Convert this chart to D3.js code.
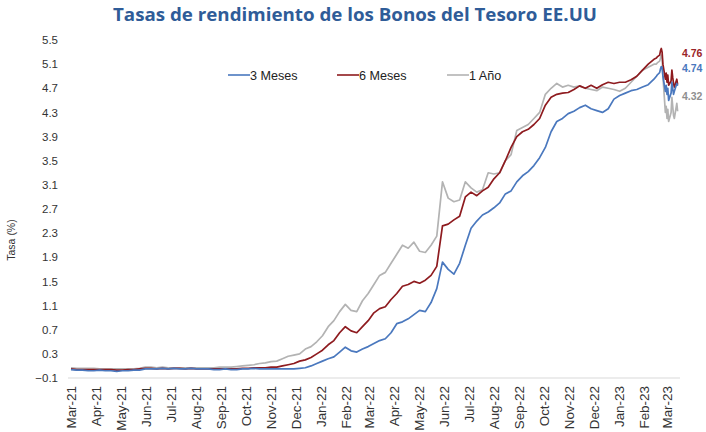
<!DOCTYPE html>
<html>
<head>
<meta charset="utf-8">
<script src="https://cdn.jsdelivr.net/npm/d3@7"></script>
<style>
  html, body { margin: 0; padding: 0; background: #fff; }
  svg { display: block; }
</style>
</head>
<body>
<svg id="chart" width="706" height="432"></svg>
<script>
// ---------------- DATA ----------------
const chartTitle = "Tasas de rendimiento de los Bonos del Tesoro EE.UU";
const seriesNames = ["3 Meses", "6 Meses", "1 Año"];
const tickLabels = ["Mar-21","Apr-21","May-21","Jun-21","Jul-21","Aug-21","Sep-21","Oct-21","Nov-21","Dec-21",
  "Jan-22","Feb-22","Mar-22","Apr-22","May-22","Jun-22","Jul-22","Aug-22","Sep-22","Oct-22","Nov-22","Dec-22",
  "Jan-23","Feb-23","Mar-23"];
const yTicks = [-0.1, 0.3, 0.7, 1.1, 1.5, 1.9, 2.3, 2.7, 3.1, 3.5, 3.9, 4.3, 4.7, 5.1, 5.5];

// weekly observations starting 2021-03-15 (one value per week)
const weeklyStart = "2021-03-15";
const threeMonthWeekly = [
  0.04,0.03,0.03,0.02,0.02,0.03,0.02,0.02,0.01,0.02,0.02,0.03,0.03,
  0.05,0.05,0.05,0.06,0.05,0.06,0.05,0.05,0.06,0.05,0.05,0.05,0.04,0.04,0.05,0.04,0.04,
  0.05,0.05,0.06,0.05,0.05,0.05,0.05,0.05,0.05,0.05,
  0.06,0.07,0.10,0.14,0.18,0.22,0.25,0.33,0.41,0.35,
  0.33,0.38,0.42,0.47,0.52,0.55,0.65,0.80,0.83,0.88,
  0.95,1.02,1.00,1.15,1.38,1.82,
  1.70,1.62,1.80,2.10,2.38,2.50,2.60,2.65,2.72,2.80,
  2.95,3.00,3.15,3.25,3.32,3.42,3.55,3.72,3.98,4.15,
  4.20,4.28,4.32,4.38,4.42,4.36,4.33,4.30,4.36,4.52,
  4.58,4.62,4.66,4.68,4.72,4.76,4.85
];
const sixMonthWeekly = [
  0.05,0.04,0.04,0.04,0.04,0.04,0.04,0.04,0.03,0.03,0.04,0.04,0.05,
  0.06,0.06,0.05,0.06,0.05,0.06,0.06,0.05,0.06,0.05,0.05,0.05,0.05,0.05,0.05,0.05,0.05,
  0.06,0.06,0.07,0.07,0.07,0.08,0.08,0.10,0.12,0.14,
  0.18,0.20,0.24,0.30,0.36,0.45,0.52,0.65,0.75,0.68,
  0.65,0.75,0.85,0.98,1.05,1.08,1.20,1.30,1.42,1.45,
  1.50,1.47,1.52,1.60,1.75,2.42,
  2.45,2.52,2.58,2.90,2.98,2.92,3.00,3.06,3.20,3.30,
  3.50,3.72,3.90,3.98,4.02,4.10,4.20,4.42,4.55,4.60,
  4.62,4.63,4.68,4.74,4.70,4.75,4.70,4.76,4.80,4.78,
  4.80,4.80,4.84,4.90,5.00,5.10,5.18
];
const oneYearWeekly = [
  0.07,0.06,0.06,0.06,0.06,0.05,0.05,0.05,0.05,0.05,0.05,0.05,0.06,
  0.08,0.08,0.07,0.08,0.07,0.07,0.07,0.07,0.07,0.07,0.07,0.07,0.07,0.08,0.08,0.08,0.09,
  0.10,0.11,0.12,0.14,0.15,0.17,0.18,0.22,0.26,0.28,
  0.30,0.38,0.42,0.50,0.60,0.75,0.85,1.00,1.12,1.02,
  1.00,1.18,1.30,1.45,1.60,1.65,1.80,1.95,2.10,2.05,
  2.15,2.00,1.98,2.10,2.25,3.15,
  2.88,2.82,2.85,3.15,3.05,2.98,3.02,3.30,3.28,3.30,
  3.50,3.60,4.00,4.05,4.10,4.20,4.30,4.60,4.70,4.78,
  4.72,4.75,4.72,4.74,4.70,4.68,4.66,4.72,4.70,4.68,
  4.65,4.70,4.80,4.90,5.00,5.05,5.10
];

// daily observations, March 2023
const marchDates = ["2023-03-02","2023-03-03","2023-03-06","2023-03-07","2023-03-08","2023-03-09","2023-03-10",
  "2023-03-13","2023-03-14","2023-03-15","2023-03-16","2023-03-17","2023-03-20","2023-03-21","2023-03-22",
  "2023-03-23","2023-03-24","2023-03-27","2023-03-28"];
const threeMonthMarch = [4.90,4.92,4.96,5.02,5.06,5.04,4.90,4.65,4.75,4.60,4.70,4.50,4.62,4.80,4.70,4.60,4.65,4.78,4.74];
const sixMonthMarch   = [5.20,5.22,5.25,5.32,5.36,5.30,5.10,4.85,4.95,4.80,4.92,4.75,4.82,5.00,4.88,4.78,4.72,4.85,4.76];
const oneYearMarch    = [5.10,5.12,5.15,5.20,5.25,5.22,4.90,4.30,4.40,4.20,4.35,4.15,4.30,4.55,4.40,4.25,4.20,4.45,4.32];

const seriesColors = ["#4A78BE", "#8E1B1F", "#B3B3B3"];
const labelColors  = ["#4A78BE", "#9A2427", "#8F8F8F"];

// ---------------- BUILD ----------------
const parseISO = d3.timeParse("%Y-%m-%d");
const parseTick = d3.timeParse("%b-%y");
const start = parseISO(weeklyStart);

function buildSeries(weekly, march) {
  const pts = weekly.map((v, i) => ({ date: d3.timeDay.offset(start, 7 * i), value: v }));
  march.forEach((v, i) => pts.push({ date: parseISO(marchDates[i]), value: v }));
  return pts;
}
const series = [
  buildSeries(threeMonthWeekly, threeMonthMarch),
  buildSeries(sixMonthWeekly, sixMonthMarch),
  buildSeries(oneYearWeekly, oneYearMarch)
];

const tickDates = tickLabels.map(t => d3.timeDay.offset(parseTick(t), 14));

const svg = d3.select("#chart");

const x = d3.scaleTime()
  .domain([tickDates[0], tickDates[tickDates.length - 1]])
  .range([71, 667]);
const y = d3.scaleLinear().domain([-0.1, 5.5]).range([378, 40]);

// title
svg.append("text")
  .attr("x", 355).attr("y", 21)
  .attr("text-anchor", "middle")
  .attr("font-family", "'Open Sans', 'Noto Sans', sans-serif")
  .attr("font-weight", "bold")
  .attr("font-size", 18)
  .attr("fill", "#2F5C98")
  .attr("textLength", 484)
  .attr("lengthAdjust", "spacingAndGlyphs")
  .text(chartTitle);

// y axis
const yAxis = d3.axisLeft(y).tickValues(yTicks).tickFormat(d3.format(".1f")).tickSize(0).tickPadding(0);
const gy = svg.append("g").attr("transform", "translate(58,0)").call(yAxis);
gy.select(".domain").remove();
gy.selectAll("text")
  .attr("font-family", "'Liberation Sans', Arial, sans-serif")
  .attr("font-size", 11.5)
  .attr("fill", "#333");

// y axis title
svg.append("text")
  .attr("transform", "translate(15,240) rotate(-90)")
  .attr("text-anchor", "middle")
  .attr("font-family", "'Liberation Sans', Arial, sans-serif")
  .attr("font-size", 10.5)
  .attr("fill", "#333")
  .text("Tasa (%)");

// x axis
const xAxis = d3.axisBottom(x).tickValues(tickDates)
  .tickFormat((d, i) => tickLabels[i]).tickSize(0).tickPadding(0);
const gx = svg.append("g").attr("transform", `translate(0,${y(-0.1)})`).call(xAxis);
gx.select(".domain").remove();
gx.selectAll("text")
  .attr("font-family", "'Liberation Sans', Arial, sans-serif")
  .attr("font-size", 12)
  .attr("fill", "#333")
  .attr("text-anchor", "end")
  .attr("dy", null)
  .attr("y", 0)
  .attr("transform", "translate(4.5,8) rotate(-90) scale(1.12,1)");

// baseline
svg.append("line")
  .attr("x1", 68).attr("x2", 680)
  .attr("y1", y(-0.1)).attr("y2", y(-0.1))
  .attr("stroke", "#D9D9D9").attr("stroke-width", 1.2);

// lines (draw gray first, then red, then blue)
const line = d3.line().x(d => x(d.date)).y(d => y(d.value));
[2, 1, 0].forEach(k => {
  svg.append("path")
    .datum(series[k])
    .attr("fill", "none")
    .attr("stroke", seriesColors[k])
    .attr("stroke-width", 1.7)
    .attr("stroke-linejoin", "round")
    .attr("d", line);
});

// legend
const legendX = [228, 337, 447];
seriesNames.forEach((name, k) => {
  svg.append("line")
    .attr("x1", legendX[k]).attr("x2", legendX[k] + 22)
    .attr("y1", 75).attr("y2", 75)
    .attr("stroke", seriesColors[k]).attr("stroke-width", 1.6);
  svg.append("text")
    .attr("x", legendX[k] + 22).attr("y", 79.5)
    .attr("font-family", "'Liberation Sans', Arial, sans-serif")
    .attr("font-size", 12.6)
    .attr("fill", "#222")
    .text(name);
});

// end labels
const endLabelY = [72, 57, 100];
series.forEach((s, k) => {
  svg.append("text")
    .attr("transform", `translate(682,${endLabelY[k]}) scale(1,1.12)`)
    .attr("font-family", "'Liberation Sans', Arial, sans-serif")
    .attr("font-weight", "bold")
    .attr("font-size", 10.5)
    .attr("fill", labelColors[k])
    .text(d3.format(".2f")(s[s.length - 1].value));
});
</script>
</body>
</html>
